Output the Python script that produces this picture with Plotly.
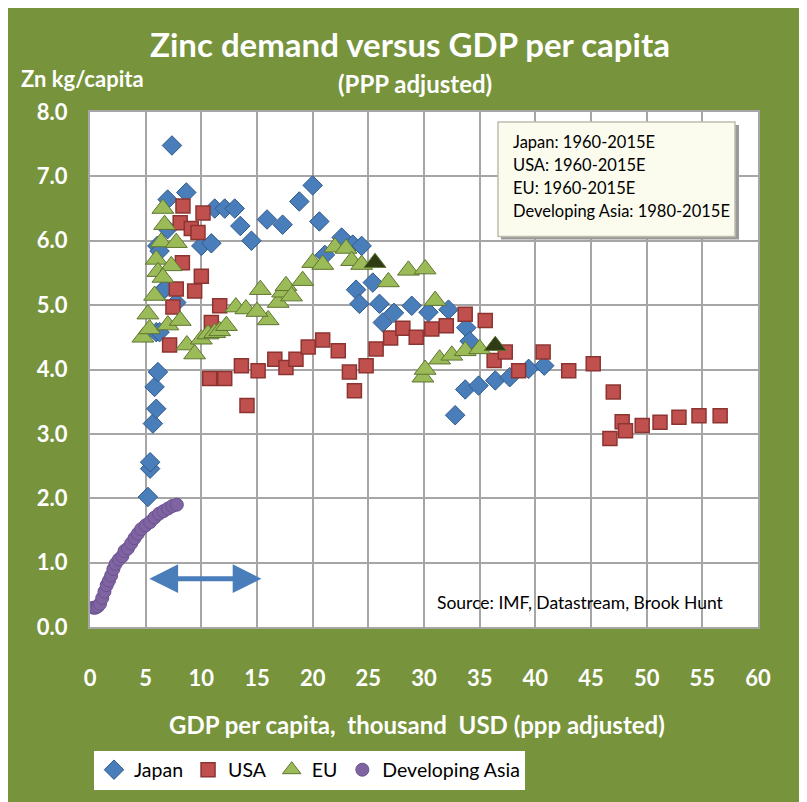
import plotly.graph_objects as go

# ---------------- data ----------------
japan_x = [5.2, 5.4, 5.4, 5.65, 5.95, 5.8, 6.1, 5.95, 6.25, 6.5, 6.04, 6.25, 6.97, 7.36, 8.65, 7.75, 6.7, 6.97,
           10.0, 10.9, 11.2, 12.1, 13.0, 13.5, 14.5, 15.9, 17.3, 18.8, 20.0, 20.6, 21.1, 22.6, 23.6, 24.4,
           23.9, 25.4, 24.2, 26.0, 26.3, 27.3, 28.9, 30.4, 32.2, 33.8, 34.1, 32.8, 33.7, 34.9, 36.4, 37.7,
           39.4, 40.8]
japan_y = [2.02, 2.46, 2.56, 3.16, 3.39, 3.73, 3.96, 4.58, 4.58, 5.22, 5.92, 5.84, 6.64, 7.48, 6.75, 5.04, 5.25, 6.18,
           5.92, 5.96, 6.5, 6.5, 6.5, 6.23, 6.0, 6.33, 6.25, 6.61, 6.86, 6.3, 5.78, 6.05, 5.94, 5.92,
           5.24, 5.35, 5.02, 5.02, 4.73, 4.88, 4.99, 4.89, 4.93, 4.65, 4.44, 3.29, 3.69, 3.75, 3.83, 3.88,
           4.01, 4.06]

usa_x = [7.15, 7.45, 7.75, 8.3, 8.35, 8.1, 9.1, 9.7, 10.15, 10.0, 9.4, 10.9, 11.65, 10.75, 12.1, 13.6, 14.1,
         15.1, 16.6, 17.6, 18.5, 19.6, 20.9, 22.3, 23.3, 23.75, 24.8, 25.7, 27.0, 28.1, 29.3, 30.7, 32.0,
         33.7, 35.5, 36.3, 37.3, 38.5, 40.7, 43.0, 45.2, 47.0, 46.7, 47.8, 48.1, 49.6, 51.2, 52.9, 54.7, 56.6]
usa_y = [4.38, 4.97, 5.25, 5.66, 6.54, 6.28, 6.19, 6.13, 6.43, 5.45, 5.22, 4.73, 4.99, 3.86, 3.86, 4.06, 3.44,
         3.98, 4.16, 4.03, 4.16, 4.35, 4.46, 4.29, 3.96, 3.67, 4.06, 4.32, 4.49, 4.64, 4.5, 4.63, 4.68,
         4.86, 4.76, 4.14, 4.27, 3.98, 4.27, 3.98, 4.09, 3.65, 2.93, 3.19, 3.05, 3.13, 3.18, 3.26, 3.28, 3.28]

eu_x = [4.75, 5.2, 5.35, 5.8, 5.95, 6.1, 6.55, 6.7, 6.4, 7.75, 7.3, 6.55, 7.0, 8.1, 8.7, 9.4, 10.0, 10.6,
        11.2, 11.65, 12.25, 13.1, 14.0, 15.3, 16.0, 15.0, 16.9, 17.3, 17.6, 18.1, 19.1, 20.0, 20.9, 22.0,
        23.0, 23.5, 24.4, 25.6, 26.8, 28.6, 30.1, 31.0, 29.9, 30.1, 31.4, 32.5, 33.7, 35.0, 36.4]
eu_y = [4.5, 4.86, 4.63, 5.15, 5.71, 5.52, 6.5, 6.25, 5.98, 5.97, 5.61, 5.43, 4.69, 4.76, 4.38, 4.24, 4.47, 4.55,
        4.57, 4.6, 4.68, 4.97, 4.94, 5.24, 4.77, 4.9, 5.04, 5.2, 5.3, 5.14, 5.38, 5.66, 5.63, 5.9,
        5.88, 5.69, 5.63, 5.66, 5.36, 5.54, 5.56, 5.07, 3.88, 4.0, 4.16, 4.22, 4.29, 4.32, 4.37]
eu_highlight_x = [25.6, 36.4]

asia_x = [0.3, 0.5, 0.7, 0.9, 1.1, 1.3, 1.5, 1.7, 1.9, 2.1, 2.3, 2.6, 2.9, 3.1, 3.4, 3.7, 4.0, 4.3, 4.6,
          5.0, 5.4, 5.8, 6.2, 6.6, 7.0, 7.4, 7.8]
asia_y = [0.3, 0.3, 0.32, 0.36, 0.45, 0.55, 0.65, 0.72, 0.8, 0.9, 0.98, 1.05, 1.1, 1.18, 1.22, 1.3, 1.38,
          1.45, 1.52, 1.58, 1.63, 1.7, 1.76, 1.8, 1.84, 1.88, 1.9]

period_lines = ["Japan: 1960-2015E", "USA: 1960-2015E", "EU: 1960-2015E", "Developing Asia: 1980-2015E"]
source_text = "Source: IMF, Datastream, Brook Hunt"
arrow_from, arrow_to, arrow_level = 5.2, 15.4, 0.75

# ---------------- styling ----------------
GREEN_BG = "#77933C"
FONT = "Lato"
OFF = 8                      # page body margin
W, H = 807 - OFF, 802 - OFF
PL, PR, PT, PB = 90, 758, 112, 629   # plot area in screen pixels
L, R, T, B = PL - OFF, W - (PR - OFF), PT - OFF, H - (PB - OFF)
pw, ph = PR - PL, PB - PT


def px(xpix):
    return (xpix - PL) / pw


def py(ypix):
    return (PB - ypix) / ph


eu_fill = ["#2E3B14" if x in eu_highlight_x else "#9BBB59" for x in eu_x]

fig = go.Figure()
fig.add_trace(go.Scatter(x=japan_x, y=japan_y, mode="markers", name="Japan",
                         marker=dict(symbol="diamond", size=15, color="#4A7EBB",
                                     line=dict(color="#2F5A8C", width=1))))
fig.add_trace(go.Scatter(x=usa_x, y=usa_y, mode="markers", name="USA",
                         marker=dict(symbol="square", size=14, color="#C0504D",
                                     line=dict(color="#8C3432", width=1.5))))
fig.add_trace(go.Scatter(x=eu_x, y=eu_y, mode="markers", name="EU",
                         marker=dict(symbol="triangle-up", size=19, color=eu_fill,
                                     line=dict(color="#5E7530", width=1))))
fig.add_trace(go.Scatter(x=asia_x, y=asia_y, mode="markers", name="Developing Asia",
                         marker=dict(symbol="circle", size=13, color="#8064A2",
                                     line=dict(color="#6A5290", width=1))))

annotations = [
    dict(text="<b>(PPP adjusted)</b>", x=px(415), y=py(83), xref="paper", yref="paper",
         showarrow=False, font=dict(family=FONT, size=24, color="white"), xanchor="center", yanchor="middle"),
    dict(text="<b>Zn kg/capita</b>", x=px(19), y=py(78), xref="paper", yref="paper",
         showarrow=False, font=dict(family=FONT, size=22, color="white"), xanchor="left", yanchor="middle"),
    dict(text="<b>GDP per capita,  thousand  USD (ppp adjusted)</b>", x=px(417), y=py(727),
         xref="paper", yref="paper", showarrow=False,
         font=dict(family=FONT, size=24, color="white"), xanchor="center", yanchor="middle"),
    dict(text=source_text, x=px(435), y=py(604), xref="paper", yref="paper", showarrow=False,
         font=dict(family=FONT, size=17.5, color="black"), xanchor="left", yanchor="middle"),
    dict(x=arrow_to, y=arrow_level, ax=arrow_from, ay=arrow_level, xref="x", yref="y",
         axref="x", ayref="y", text="", showarrow=True, arrowhead=2, arrowside="end+start",
         arrowsize=1.15, arrowwidth=5, arrowcolor="#4A7EBB"),
]
line_y = [142, 165, 188, 211]
for txt, yy in zip(period_lines, line_y):
    annotations.append(dict(text=txt, x=px(511), y=py(yy), xref="paper", yref="paper", showarrow=False,
                            font=dict(family=FONT, size=16.5, color="black"), xanchor="left", yanchor="middle"))

shapes = [
    dict(type="rect", xref="paper", yref="paper", x0=px(501), x1=px(739), y0=py(240), y1=py(125),
         fillcolor="#9A9A9A", line=dict(width=0), layer="above"),
    dict(type="rect", xref="paper", yref="paper", x0=px(498), x1=px(735), y0=py(237), y1=py(122),
         fillcolor="#FBFBEE", line=dict(color="#BDBDB0", width=1.5), layer="above"),
]

fig.update_layout(
    width=W, height=H,
    margin=dict(l=L, r=R, t=T, b=B),
    paper_bgcolor=GREEN_BG, plot_bgcolor="white",
    title=dict(text="<b>Zinc demand versus GDP per capita</b>", x=(410 - OFF) / W, xanchor="center",
               y=1 - (45 - OFF) / H, yanchor="middle", font=dict(family=FONT, size=33, color="white")),
    xaxis=dict(range=[0, 60], dtick=5, tick0=0, showgrid=True, gridcolor="#A6A6A6", gridwidth=2,
               zeroline=False, showline=True, linecolor="#A6A6A6", linewidth=2, mirror=True,
               ticks="", ticklabelstandoff=31,
               tickfont=dict(family=FONT, size=22, color="white", weight="bold")),
    yaxis=dict(range=[0, 8], dtick=1, tick0=0, tickformat=".1f", showgrid=True, gridcolor="#A6A6A6",
               gridwidth=2, zeroline=False, showline=True, linecolor="#A6A6A6", linewidth=2, mirror=True,
               ticks="", ticklabelstandoff=16,
               tickfont=dict(family=FONT, size=22, color="white", weight="bold")),
    legend=dict(orientation="h", x=px(94), y=py(753), xanchor="left", yanchor="top",
                bgcolor="white", font=dict(family=FONT, size=19.5, color="black"),
                itemwidth=30, tracegroupgap=0),
    annotations=annotations,
    shapes=shapes,
    showlegend=True,
)

fig.write_html("out.html")
